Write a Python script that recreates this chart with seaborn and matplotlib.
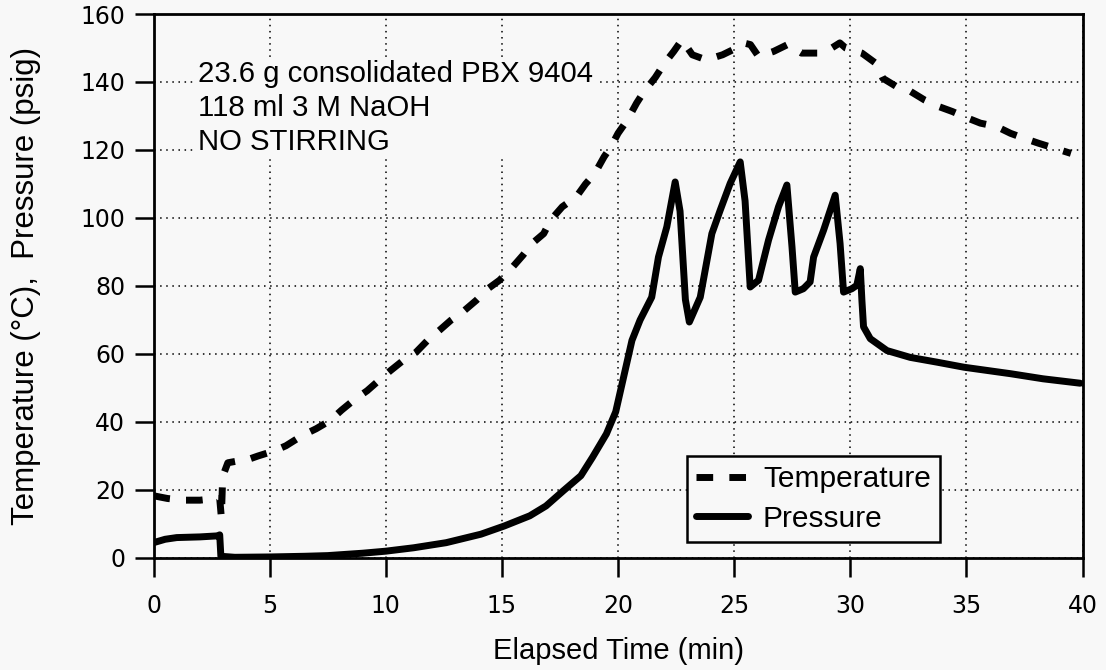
import matplotlib
matplotlib.use("Agg")
import matplotlib.pyplot as plt
import seaborn as sns

# Reactor run: temperature (°C) and pressure (psig) versus elapsed time (min)
temp_time = [0.0, 0.6, 1.3, 2.0, 2.7, 2.85, 2.92, 2.98, 3.2, 3.6, 4.0, 4.5, 5.2, 5.7,
             6.4, 7.0, 7.6, 8.1, 8.6, 9.2, 9.7, 10.2, 10.75, 11.3, 11.8, 12.3, 12.8,
             13.3, 13.9, 14.4, 14.9, 15.4, 15.9, 16.3, 16.8, 17.1, 17.6, 18.2, 18.6,
             19.0, 19.4, 19.7, 20.0, 20.4, 20.8, 21.1, 21.6, 22.0, 22.4, 22.75, 23.2,
             23.8, 24.5, 25.1, 25.4, 25.7, 26.05, 26.7, 27.3, 27.9, 28.6, 29.2, 29.55,
             29.8, 30.5, 31.1, 31.4, 32.0, 32.6, 33.2, 33.8, 34.4, 34.9, 35.6, 36.3,
             36.9, 37.5, 38.1, 38.8, 39.5]
temp_values = [18.3, 17.5, 17.0, 17.0, 17.5, 17.5, 12.0, 24.0, 28.0, 28.5, 28.8, 30.0,
               31.5, 33.0, 36.0, 38.0, 40.4, 43.5, 46.3, 49.2, 52.2, 55.1, 58.1, 60.5,
               64.0, 66.9, 69.9, 72.3, 75.8, 79.2, 81.7, 85.1, 89.0, 92.5, 95.4, 99.4,
               103.3, 106.2, 110.0, 113.1, 118.0, 121.0, 124.9, 128.8, 133.8, 137.0,
               141.3, 145.5, 149.0, 152.4, 148.0, 146.5, 148.0, 150.0, 151.5, 151.0,
               147.5, 149.0, 151.0, 148.5, 148.5, 150.0, 151.5, 150.0, 148.5, 145.5,
               141.1, 138.6, 137.2, 134.7, 132.8, 131.3, 129.8, 127.9, 126.9, 124.9,
               123.4, 122.0, 120.5, 119.0]

press_time = [0.0, 0.5, 1.0, 2.0, 2.75, 2.85, 2.9, 3.5, 5.0, 6.5, 7.5, 9.0, 10.0, 11.2,
              12.6, 14.1, 15.1, 16.2, 16.9, 17.65, 18.4, 18.9, 19.5, 19.9, 20.2, 20.6,
              20.95, 21.45, 21.74, 22.1, 22.46, 22.67, 22.9, 23.07, 23.54, 24.04, 24.4,
              24.83, 25.26, 25.47, 25.69, 26.05, 26.48, 26.91, 27.27, 27.49, 27.63,
              27.98, 28.27, 28.42, 28.85, 29.35, 29.56, 29.71, 30.07, 30.28, 30.43,
              30.5, 30.57, 30.86, 31.58, 32.58, 33.73, 34.9, 36.9, 38.3, 39.9]
press_values = [4.5, 5.5, 6.0, 6.2, 6.5, 6.8, 0.5, 0.2, 0.3, 0.5, 0.7, 1.4, 2.0, 3.0,
                4.5, 7.0, 9.4, 12.4, 15.3, 19.8, 24.2, 29.6, 36.5, 43.0, 52.0, 64.0,
                70.0, 76.7, 88.5, 97.4, 110.6, 102.0, 76.0, 69.4, 76.7, 95.4, 102.3,
                110.2, 116.5, 105.0, 79.7, 81.7, 93.5, 103.3, 109.7, 91.5, 78.2, 79.2,
                81.2, 88.5, 96.4, 106.7, 92.5, 78.2, 79.2, 80.2, 85.1, 75.8, 68.0, 64.5,
                61.0, 59.0, 57.6, 56.1, 54.2, 52.7, 51.4]

x_ticks = [0, 5, 10, 15, 20, 25, 30, 35, 40]
y_ticks = [0, 20, 40, 60, 80, 100, 120, 140, 160]
note_lines = ["23.6 g consolidated PBX 9404", "118 ml 3 M NaOH", "NO STIRRING"]

BG = "#f8f8f8"

sns.set_theme(style="ticks")
plt.rcParams["font.family"] = ["Liberation Sans", "DejaVu Sans"]

fig = plt.figure(figsize=(11.06, 6.70), dpi=100, facecolor=BG)
ax = fig.add_axes([0.1388, 0.1672, 0.8400, 0.8119])
ax.set_facecolor(BG)

sns.lineplot(x=temp_time, y=temp_values, ax=ax, color="black", linewidth=5,
             linestyle=(0, (2.4, 2.33)), sort=False, estimator=None,
             label="Temperature")
sns.lineplot(x=press_time, y=press_values, ax=ax, color="black", linewidth=5,
             sort=False, estimator=None, label="Pressure")
for line in ax.get_lines():
    line.set_dash_capstyle("butt")
    line.set_solid_joinstyle("round")

ax.set_xlim(0, 40)
ax.set_ylim(0, 160)
ax.set_xticks(x_ticks, [str(v) for v in x_ticks])
ax.set_yticks(y_ticks, [str(v) for v in y_ticks])
for lbl in ax.get_xticklabels() + ax.get_yticklabels():
    lbl.set_fontfamily("DejaVu Sans")

ax.grid(True, color="black", linestyle=(0, (1, 3)), linewidth=1.1)
ax.set_axisbelow(True)

ax.tick_params(axis="both", direction="out", length=13.7, width=1.8,
               labelsize=17, colors="black")
ax.tick_params(axis="x", pad=12)
ax.tick_params(axis="y", pad=6.8)
for s in ax.spines.values():
    s.set_visible(True)
    s.set_color("black")
    s.set_linewidth(2)

ax.set_xlabel("Elapsed Time (min)", fontsize=21, color="black")
ax.xaxis.set_label_coords(0.5, -0.145)
ax.set_ylabel("Temperature (°C),  Pressure (psig)", fontsize=22.5, color="black")
ax.yaxis.set_label_coords(-0.121, 0.5)

ax.text(1.92, 146.5, "\n".join(note_lines), ha="left", va="top", fontsize=21.2,
        linespacing=1.28, color="black", zorder=3,
        bbox=dict(boxstyle="square,pad=0.1", fc=BG, ec="none"))

leg = ax.legend(loc="lower left", bbox_to_anchor=(0.574, 0.030), borderaxespad=0,
                fontsize=21.5, frameon=True, fancybox=False, edgecolor="black",
                facecolor=BG, framealpha=1, handlelength=1.75, handletextpad=0.5,
                borderpad=0.3, labelspacing=0.38)
leg.get_frame().set_linewidth(1.8)
for t in leg.get_texts():
    t.set_color("black")

fig.savefig("out.png", dpi=100, facecolor=BG)
